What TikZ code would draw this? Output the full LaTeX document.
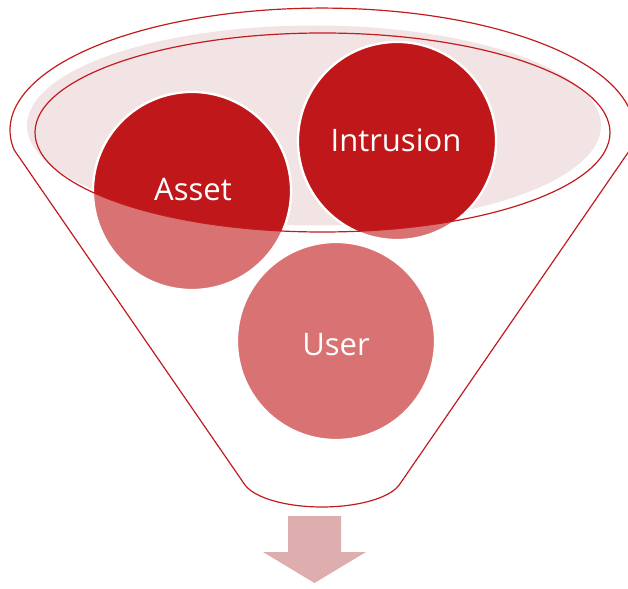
\documentclass[tikz,border=0pt]{standalone}
\usepackage{fontspec}
\setmainfont{Open Sans}
\definecolor{darkred}{RGB}{192,24,26}
\definecolor{lightred}{RGB}{217,115,115}
\definecolor{pinkfill}{RGB}{242,228,228}
\definecolor{arrowpink}{RGB}{222,174,174}
\definecolor{linered}{RGB}{194,28,30}
\begin{document}
\begin{tikzpicture}[x=1pt,y=-1pt,
  funnelline/.style={draw=linered, line width=1.2pt},
  ball/.style={circle, minimum size=198pt, inner sep=0pt, draw=white, line width=2.2pt},
  ringfill/.style={draw=white, line width=2.2pt},
  lbl/.style={text=white, font=\fontsize{31}{36}\selectfont, anchor=base, inner sep=0pt}]
\useasboundingbox (0,0) rectangle (628,588);
% light glass surface
\fill[pinkfill] (314,125.5) ellipse [x radius=287, y radius=100];
% funnel outline
\draw[funnelline] (629.8,150) arc[start angle=9.4, end angle=-189.4, x radius=312, y radius=122]
  -- (245,485) arc[start angle=164.5, end angle=15.5, x radius=80, y radius=30] -- cycle;
% circles (seen through the funnel)
\node[ball, fill=lightred] (asset) at (192,191) {};
\node[ball, fill=lightred] (intrusion) at (397,141) {};
\node[ball, fill=lightred] (user) at (336,341) {};
% parts of circles above the inner rim
\begin{scope}
  \clip (322.5,132.5) ellipse [x radius=287.5, y radius=99.5];
  \fill[darkred, ringfill] (asset.center) circle [radius=99];
  \fill[darkred, ringfill] (intrusion.center) circle [radius=99];
\end{scope}
% inner rim
\draw[funnelline] (322.5,132.5) ellipse [x radius=287.5, y radius=99.5];
% labels
\node[lbl] (assettext) at (193,200) {Asset};
\node[lbl] (intrusiontext) at (396,152) {Intrusion};
\node[lbl] (usertext) at (336,355) {User};
% output arrow
\fill[arrowpink] (288,516) -- (341,516) -- (341,552) -- (366,552) -- (314.5,583)
  -- (263,552) -- (288,552) -- cycle;
\end{tikzpicture}
\end{document}
